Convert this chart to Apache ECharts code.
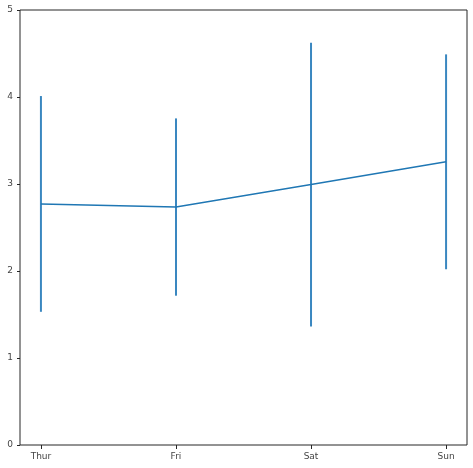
<!DOCTYPE html>
<html><head><meta charset="utf-8">
<script src="https://cdn.jsdelivr.net/npm/echarts@6/dist/echarts.min.js"></script>
<style>html,body{margin:0;padding:0;background:#fff}#c{width:473px;height:468px}</style>
</head><body><div id="c"></div>
<script>
const categories = ['Thur', 'Fri', 'Sat', 'Sun'];
const means = [2.771, 2.735, 2.993, 3.255];
const errs = [1.240, 1.019, 1.631, 1.235];
const yTicks = [0, 1, 2, 3, 4, 5];

const chart = echarts.init(document.getElementById('c'));
const font = 'DejaVu Sans';
const lineData = means.map((m, i) => [i, m]);
const errData = means.map((m, i) => [i, m - errs[i], m + errs[i]]);
chart.setOption({
  animation: false,
  grid: {left: 20, top: 10, right: 6, bottom: 23, show: true, borderColor: '#262626', borderWidth: 1},
  xAxis: {
    type: 'value', min: -0.155, max: 3.155,
    splitLine: {show: false},
    axisLine: {show: false, onZero: false},
    axisTick: {show: true, length: 4, lineStyle: {color: '#262626'}, customValues: categories.map((c, i) => i)},
    axisLabel: {customValues: categories.map((c, i) => i), formatter: v => categories[Math.round(v)] || '',
      color: '#444', fontFamily: font, fontSize: 9, margin: 7}
  },
  yAxis: {
    type: 'value', min: 0, max: 5, interval: 1,
    splitLine: {show: false},
    axisLine: {show: false, onZero: false},
    axisTick: {show: true, length: 3, lineStyle: {color: '#262626'}, customValues: yTicks},
    axisLabel: {customValues: yTicks, color: '#444', fontFamily: font, fontSize: 9, margin: 7}
  },
  series: [
    {
      type: 'custom',
      data: errData,
      renderItem: (params, api) => {
        const p1 = api.coord([api.value(0), api.value(1)]);
        const p2 = api.coord([api.value(0), api.value(2)]);
        return {type: 'line', shape: {x1: p1[0], y1: p1[1], x2: p2[0], y2: p2[1]},
          style: {stroke: '#3a87c0', lineWidth: 2}};
      },
      z: 2
    },
    {
      type: 'line', data: lineData, symbol: 'none',
      lineStyle: {color: '#1f77b4', width: 1.5}, z: 3
    }
  ]
});
</script></body></html>
